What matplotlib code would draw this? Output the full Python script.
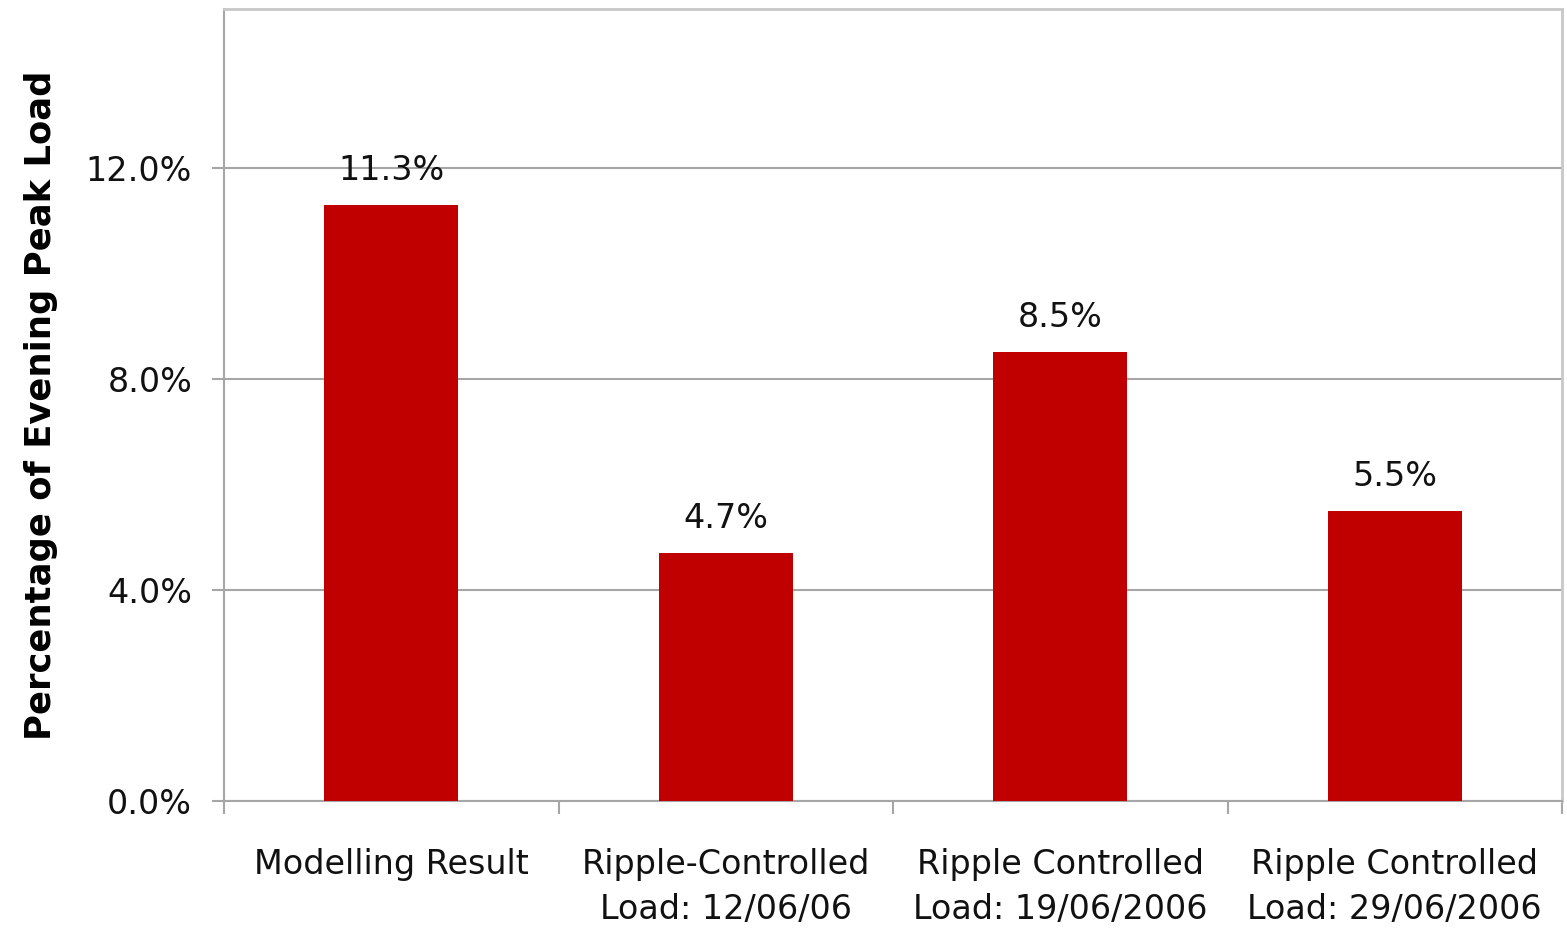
import matplotlib
matplotlib.use("Agg")
import matplotlib.pyplot as plt
from matplotlib.ticker import FixedLocator, PercentFormatter

categories = [
    "Modelling Result",
    "Ripple-Controlled\nLoad: 12/06/06",
    "Ripple Controlled\nLoad: 19/06/2006",
    "Ripple Controlled\nLoad: 29/06/2006",
]
values = [11.3, 4.7, 8.5, 5.5]
value_labels = ["11.3%", "4.7%", "8.5%", "5.5%"]
y_ticks = [0, 4, 8, 12]

BAR_COLOR = "#C00000"
GRID_COLOR = "#a6a6a6"
FRAME_COLOR = "#c8c8c8"

plt.rcParams["font.family"] = "DejaVu Sans"

fig = plt.figure(figsize=(15.67, 9.34), dpi=100)
ax = fig.add_axes([0.143, 0.1424, 0.8538, 0.8476])

x = list(range(len(categories)))
bars = ax.bar(x, values, width=0.4, color=BAR_COLOR, zorder=3)

for bar, label in zip(bars, value_labels):
    ax.annotate(
        label,
        (bar.get_x() + bar.get_width() / 2, bar.get_height()),
        xytext=(0, 13),
        textcoords="offset points",
        ha="center",
        va="bottom",
        fontsize=24,
        color="#111111",
    )

ax.set_xlim(-0.5, len(categories) - 0.5)
ax.set_ylim(0, 15)
ax.set_yticks(y_ticks)
ax.yaxis.set_major_formatter(PercentFormatter(decimals=1))
ax.grid(axis="y", color=GRID_COLOR, linewidth=1.5, zorder=0)

ax.set_xticks(x)
ax.set_xticklabels(categories, fontsize=24, linespacing=1.45)
ax.xaxis.set_minor_locator(FixedLocator([i - 0.5 for i in range(len(categories) + 1)]))
ax.tick_params(axis="x", which="major", length=0, pad=34, colors="#111111")
ax.tick_params(axis="x", which="minor", length=9, width=1.5, color=GRID_COLOR, direction="out")
ax.tick_params(axis="y", length=9, width=1.5, color=GRID_COLOR, labelsize=24,
               labelcolor="#111111", pad=14)

ax.set_ylabel("Percentage of Evening Peak Load", fontsize=25.5, fontweight="bold", labelpad=20)

ax.spines["left"].set_color(GRID_COLOR)
ax.spines["bottom"].set_color(GRID_COLOR)
ax.spines["left"].set_linewidth(1.5)
ax.spines["bottom"].set_linewidth(1.5)
ax.spines["top"].set_color(FRAME_COLOR)
ax.spines["right"].set_color(FRAME_COLOR)
ax.spines["top"].set_linewidth(2)
ax.spines["right"].set_linewidth(2)

fig.savefig("out.png", dpi=100)
